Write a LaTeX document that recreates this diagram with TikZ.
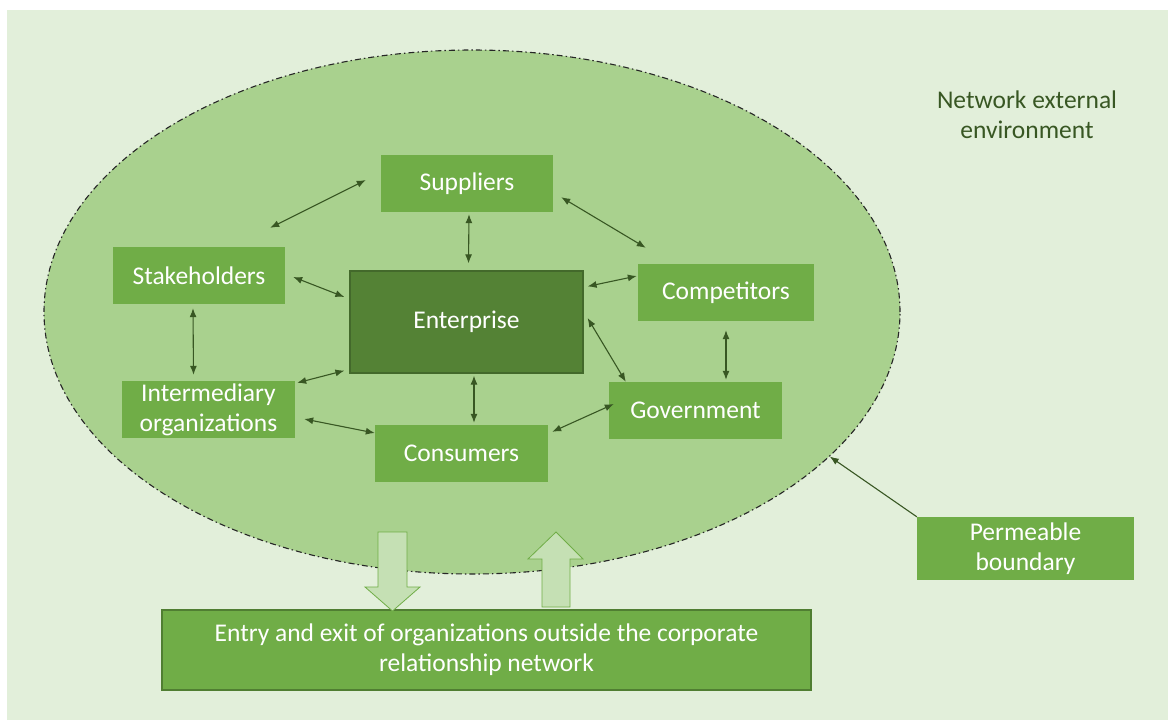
\documentclass[tikz,border=0pt]{standalone}
\usepackage{fontspec}
\setmainfont{Carlito}
\usetikzlibrary{arrows.meta,shapes.geometric}
\definecolor{bgc}{HTML}{E2EFDA}
\definecolor{ellc}{HTML}{A9D18E}
\definecolor{boxc}{HTML}{70AD47}
\definecolor{entc}{HTML}{548235}
\definecolor{entb}{HTML}{43692B}
\definecolor{arrc}{HTML}{385723}
\definecolor{botb}{HTML}{507E32}
\definecolor{bigc}{HTML}{C5E0B4}
\tikzset{
  gbox/.style={fill=boxc, draw=none, text=white, inner sep=0pt, align=center,
    font=\fontsize{25.5}{30}\selectfont},
  link/.style={draw=arrc, line width=1.1pt, {Latex[length=9pt,width=7pt]}-{Latex[length=9pt,width=7pt]}},
  onelink/.style={draw=arrc, line width=1.1pt, -{Latex[length=9pt,width=7pt]}},
  bigarrow/.style={fill=bigc, draw=boxc, line width=0.8pt},
}
\begin{document}
\begin{tikzpicture}[x=1pt,y=-1pt]
\useasboundingbox (0,0) rectangle (1168,720);
\fill[bgc] (7,10) rectangle (1168,720);
\node[ellipse, fill=ellc, draw=black!85, line width=1.1pt,
  dash pattern=on 6pt off 3pt on 1.5pt off 3pt,
  minimum width=856pt, minimum height=524pt, inner sep=0pt] (bnd) at (472,312) {};

\node[gbox, minimum width=172pt, minimum height=57pt] (sup) at (467,183.5) {Suppliers};
\node[gbox, minimum width=172pt, minimum height=57pt] (stake) at (199,275.5) {Stakeholders};
\node[gbox, fill=entc, draw=entb, line width=1.2pt, minimum width=233pt, minimum height=102pt] (ent) at (466.5,322) {Enterprise};
\node[gbox, minimum width=176pt, minimum height=57pt] (comp) at (726,292.5) {Competitors};
\node[gbox, minimum width=173pt, minimum height=57pt] (inter) at (208.5,409.5) {Intermediary\\organizations};
\node[gbox, minimum width=173pt, minimum height=57pt] (cons) at (461.5,453.5) {Consumers};
\node[gbox, minimum width=173pt, minimum height=57pt] (gov) at (695.5,410.5) {Government};
\node[gbox, minimum width=217pt, minimum height=63pt] (perm) at (1025.5,548.5) {Permeable\\boundary};
\node[gbox, draw=botb, line width=1.3pt, minimum width=649pt, minimum height=80pt] (exit) at (486.5,650) {Entry and exit of organizations outside the corporate\\relationship network};

\node[text=arrc, align=center, font=\fontsize{25.5}{30}\selectfont] (env) at (1027,115) {Network external\\environment};

% connectors
\draw[link] ([shift={(-15,-19)}]stake.north east) -- ([shift={(-15,-3.5)}]sup.west);
\draw[link] ([shift={(2,2)}]sup.south) -- ([shift={(2,-7)}]ent.north);
\draw[link] ([shift={(8,-15)}]sup.south east) -- ([shift={(8,-16)}]comp.north west);
\draw[link] ([shift={(8,1.5)}]stake.east) -- ([shift={(-5,-25)}]ent.west);
\draw[link] ([shift={(4,16)}]ent.north east) -- ([shift={(-1,-16.5)}]comp.west);
\draw[link] ([shift={(-6,4)}]stake.south) -- ([shift={(-15,-6)}]inter.north);
\draw[link] ([shift={(2,2)}]inter.north east) -- ([shift={(-5,-3)}]ent.south west);
\draw[link] ([shift={(7.5,2)}]ent.south) -- ([shift={(12.5,-2)}]cons.north);
\draw[link] ([shift={(9,9.5)}]inter.east) -- ([shift={(0,-20.5)}]cons.west);
\draw[link] ([shift={(4,-4)}]ent.east) -- ([shift={(17,0)}]gov.north west);
\draw[link] ([shift={(0,9)}]comp.south) -- ([shift={(30.5,-2)}]gov.north);
\draw[link] ([shift={(4,7)}]cons.north east) -- ([shift={(5,-6.5)}]gov.west);
\draw[onelink] (perm.north west) -- (bnd.-22);

% entry / exit arrows
\draw[bigarrow] (378,532) -- (407,532) -- (407,587) -- (420,587) -- (392.5,611) -- (365,587) -- (378,587) -- cycle;
\draw[bigarrow] (542,607) -- (570,607) -- (570,559) -- (583,559) -- (556,532) -- (528,559) -- (542,559) -- cycle;
\end{tikzpicture}
\end{document}
